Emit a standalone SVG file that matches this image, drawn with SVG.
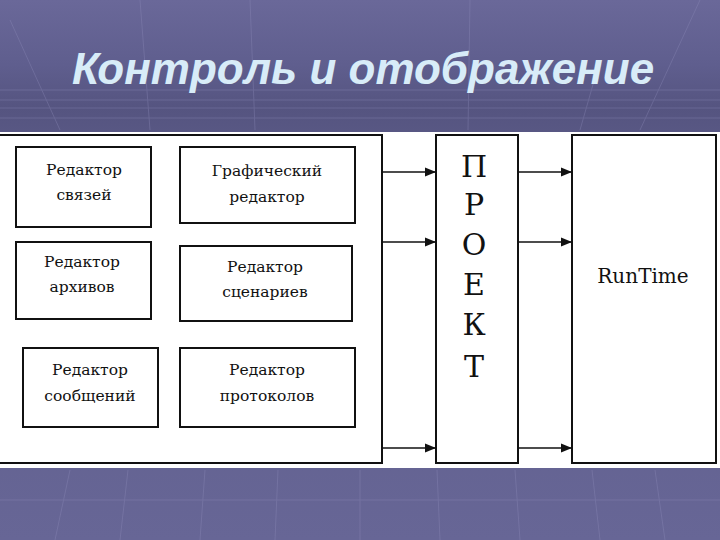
<svg xmlns="http://www.w3.org/2000/svg" width="720" height="540" viewBox="0 0 720 540">
<defs>
<linearGradient id="bg" x1="0" y1="0" x2="0" y2="1">
<stop offset="0" stop-color="#6a6899"/>
<stop offset="0.12" stop-color="#5f5e8e"/>
<stop offset="0.2" stop-color="#555480"/>
<stop offset="0.3" stop-color="#5c5b88"/>
<stop offset="1" stop-color="#676696"/>
</linearGradient>
<marker id="ah" viewBox="0 0 10 10" refX="10" refY="5" markerWidth="15" markerHeight="11" markerUnits="userSpaceOnUse" orient="auto">
<path d="M0,1 L10,5 L0,9 Z" fill="#111"/>
</marker>
<style>
.box{fill:#fff;stroke:#111;stroke-width:2}
.t{font-family:'DejaVu Serif',serif;font-size:15.5px;fill:#111;text-anchor:middle}
.big{font-family:'DejaVu Serif',serif;font-size:30px;fill:#111;text-anchor:middle}
.rt{font-family:'DejaVu Serif',serif;font-size:20px;fill:#111;text-anchor:middle}
.grid{stroke:#8e8cba;stroke-width:1;opacity:0.35;fill:none}
.c{stroke:#111;stroke-width:1.5;fill:none;marker-end:url(#ah)}
</style>
</defs>
<rect width="720" height="540" fill="url(#bg)"/>
<g class="grid">
<path d="M0,100 H720 M0,108 H720 M0,118 H720 M0,90 H720 M0,500 H720"/>
<path d="M55,540 L70,470 M120,540 L128,470 M200,540 L205,470 M275,540 L278,470 M360,540 L360,470 M440,540 L437,470 M520,540 L515,470 M600,540 L592,470 M665,540 L655,470"/>
<path d="M10,20 L60,130 M140,0 L150,130 M250,0 L255,130 M470,0 L468,130 M600,60 L580,130 M700,0 L640,130"/>
</g>
<text x="72" y="84" font-family="'Liberation Sans',Arial,sans-serif" font-size="44" font-weight="bold" font-style="italic" fill="#d8ecf8">Контроль и отображение</text>
<rect x="0" y="132" width="720" height="336" fill="#fff"/>
<g id="editors">
<rect class="box" x="-2" y="135" width="384" height="328"/>
</g>
<g id="n1"><rect class="box" x="16" y="147" width="135" height="80"/><text class="t" x="84" y="175">Редактор</text><text class="t" x="84" y="200">связей</text></g>
<g id="n2"><rect class="box" x="180" y="147" width="175" height="76"/><text class="t" x="267" y="176">Графический</text><text class="t" x="267" y="202">редактор</text></g>
<g id="n3"><rect class="box" x="16" y="242" width="135" height="77"/><text class="t" x="82" y="267">Редактор</text><text class="t" x="82" y="292">архивов</text></g>
<g id="n4"><rect class="box" x="180" y="246" width="172" height="75"/><text class="t" x="265" y="272">Редактор</text><text class="t" x="265" y="297">сценариев</text></g>
<g id="n5"><rect class="box" x="23" y="348" width="135" height="79"/><text class="t" x="90" y="375">Редактор</text><text class="t" x="90" y="401">сообщений</text></g>
<g id="n6"><rect class="box" x="180" y="348" width="175" height="79"/><text class="t" x="267" y="375">Редактор</text><text class="t" x="267" y="401">протоколов</text></g>
<g id="project"><rect class="box" x="436" y="135" width="82" height="328"/>
<text class="big" x="474" y="177">П</text><text class="big" x="474" y="215">Р</text><text class="big" x="474" y="255">О</text><text class="big" x="474" y="295">Е</text><text class="big" x="474" y="335">К</text><text class="big" x="474" y="377">Т</text></g>
<g id="runtime"><rect class="box" x="572" y="135" width="144" height="328"/><text class="rt" x="643" y="283">RunTime</text></g>
<g id="connectors">
<line class="c" x1="382" y1="172" x2="436" y2="172"/>
<line class="c" x1="382" y1="242" x2="436" y2="242"/>
<line class="c" x1="382" y1="448" x2="436" y2="448"/>
<line class="c" x1="518" y1="172" x2="572" y2="172"/>
<line class="c" x1="518" y1="242" x2="572" y2="242"/>
<line class="c" x1="518" y1="448" x2="572" y2="448"/>
</g>
</svg>
